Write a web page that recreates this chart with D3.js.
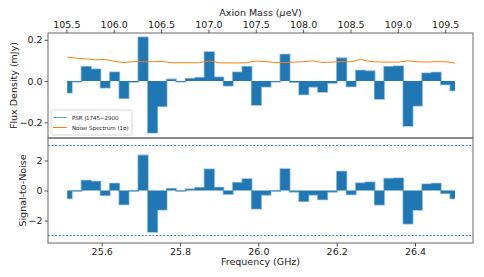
<!DOCTYPE html>
<html>
<head>
<meta charset="utf-8">
<script src="https://cdn.jsdelivr.net/npm/d3@7"></script>
<style>
  body { margin: 0; background: #fff; }
  svg text { font-family: "DejaVu Sans", sans-serif; fill: #222; }
  .axis path, .axis line { stroke: #555; }
  .axis text { font-size: 9.5px; }
</style>
</head>
<body>
<div id="main"></div>
<script>
// channel frequencies (GHz)
var freq = [25.512, 25.536, 25.561, 25.585, 25.609, 25.633, 25.657, 25.681, 25.706, 25.730,
            25.754, 25.778, 25.802, 25.826, 25.850, 25.875, 25.899, 25.923, 25.947, 25.971,
            25.995, 26.019, 26.044, 26.068, 26.092, 26.116, 26.140, 26.164, 26.188, 26.213,
            26.237, 26.261, 26.285, 26.309, 26.333, 26.358, 26.382, 26.406, 26.430, 26.454,
            26.478, 26.502];

// flux density (mJy)
var flux = [-0.057, -0.003, 0.069, 0.057, -0.032, 0.043, -0.083, -0.004, 0.212, -0.250,
            -0.122, 0.008, -0.003, 0.011, 0.016, 0.141, 0.018, -0.023, 0.043, 0.069,
            -0.116, -0.027, -0.003, 0.129, -0.005, -0.065, -0.028, -0.053, -0.009, 0.111,
            -0.026, 0.051, 0.048, -0.087, 0.069, 0.072, -0.218, -0.120, 0.038, 0.041,
            -0.017, -0.046];

// noise spectrum (1 sigma, mJy)
var noise = [0.116, 0.111, 0.107, 0.103, 0.105, 0.095, 0.090, 0.094, 0.094, 0.094,
             0.095, 0.089, 0.089, 0.089, 0.089, 0.098, 0.089, 0.088, 0.088, 0.089,
             0.097, 0.094, 0.090, 0.090, 0.092, 0.094, 0.098, 0.090, 0.092, 0.094,
             0.094, 0.105, 0.095, 0.092, 0.092, 0.092, 0.098, 0.094, 0.092, 0.094,
             0.094, 0.087];

// signal-to-noise
var snr = [-0.53, -0.04, 0.66, 0.60, -0.31, 0.46, -0.93, -0.04, 2.34, -2.76,
           -1.28, 0.11, -0.04, 0.09, 0.18, 1.41, 0.20, -0.24, 0.51, 0.77,
           -1.21, -0.29, -0.04, 1.43, -0.09, -0.71, -0.29, -0.60, -0.09, 1.26,
           -0.27, 0.49, 0.55, -0.95, 0.79, 0.82, -2.21, -1.30, 0.42, 0.46,
           -0.18, -0.53];

var massTicks = [105.5, 106.0, 106.5, 107.0, 107.5, 108.0, 108.5, 109.0, 109.5];
var freqTicks = [25.6, 25.8, 26.0, 26.2, 26.4];
var fluxTicks = [-0.2, 0.0, 0.2];
var snrTicks = [-2, 0, 2];
var snrLimits = [-3, 3];
var legendLabels = ["PSR J1745\u22122900", "Noise Spectrum (1\u03c3)"];

var GHZ_TO_UEV = 4.135667;

var width = 484;
var height = 277;
var blue = "#1f77b4";
var orange = "#ff7f0e";

var svg = d3.select("#main")
  .append("svg")
  .attr("width", width)
  .attr("height", height);

var left = 48, right = 473;
var topY = 33, midY = 138, botY = 243;

var x = d3.scaleLinear()
  .domain([25.463, 26.548])
  .range([left, right]);

var xMass = d3.scaleLinear()
  .domain([x.domain()[0] * GHZ_TO_UEV, x.domain()[1] * GHZ_TO_UEV])
  .range([left, right]);

var yFlux = d3.scaleLinear()
  .domain([-0.276, 0.233])
  .range([midY, topY]);

var ySnr = d3.scaleLinear()
  .domain([-3.5, 3.5])
  .range([botY, midY]);

var idx = d3.range(freq.length);

function drawSteps(g, vals, y) {
  var area = d3.area()
    .curve(d3.curveStep)
    .x(function(i) { return x(freq[i]); })
    .y0(y(0))
    .y1(function(i) { return y(vals[i]); });
  var line = d3.line()
    .curve(d3.curveStep)
    .x(function(i) { return x(freq[i]); })
    .y(function(i) { return y(vals[i]); });
  g.append("path")
    .attr("d", line(idx))
    .attr("fill", "none")
    .attr("stroke", blue)
    .attr("stroke-opacity", 0.5)
    .attr("stroke-width", 1.6);
  g.append("path")
    .attr("d", area(idx))
    .attr("fill", blue);
}

// top panel
var topG = svg.append("g");
drawSteps(topG, flux, yFlux);

topG.append("path")
  .attr("d", d3.line()
    .x(function(i) { return x(freq[i]); })
    .y(function(i) { return yFlux(noise[i]); })(idx))
  .attr("fill", "none")
  .attr("stroke", orange)
  .attr("stroke-width", 1);

// bottom panel
var botG = svg.append("g");
botG.selectAll("line.lim")
  .data(snrLimits)
  .enter().append("line")
  .attr("class", "lim")
  .attr("x1", left).attr("x2", right)
  .attr("y1", function(d) { return ySnr(d); })
  .attr("y2", function(d) { return ySnr(d); })
  .attr("stroke", blue)
  .attr("stroke-width", 0.9)
  .attr("stroke-dasharray", "2,1.6");
drawSteps(botG, snr, ySnr);

// frames
[[topY, midY], [midY, botY]].forEach(function(p) {
  svg.append("rect")
    .attr("x", left).attr("y", p[0])
    .attr("width", right - left).attr("height", p[1] - p[0])
    .attr("fill", "none")
    .attr("stroke", "#666")
    .attr("stroke-width", 1);
});

// axes
svg.append("g")
  .attr("class", "axis")
  .attr("transform", "translate(0," + topY + ")")
  .call(d3.axisTop(xMass).tickValues(massTicks).tickFormat(d3.format(".1f")).tickSize(3.5).tickPadding(2))
  .select(".domain").remove();

svg.append("g")
  .attr("class", "axis")
  .attr("transform", "translate(0," + botY + ")")
  .call(d3.axisBottom(x).tickValues(freqTicks).tickFormat(d3.format(".1f")).tickSize(3.5).tickPadding(2))
  .select(".domain").remove();

svg.append("g")
  .attr("class", "axis")
  .attr("transform", "translate(" + left + ",0)")
  .call(d3.axisLeft(yFlux).tickValues(fluxTicks).tickFormat(d3.format(".1f")).tickSize(3.5).tickPadding(2))
  .select(".domain").remove();

svg.append("g")
  .attr("class", "axis")
  .attr("transform", "translate(" + left + ",0)")
  .call(d3.axisLeft(ySnr).tickValues(snrTicks).tickFormat(d3.format("d")).tickSize(3.5).tickPadding(2))
  .select(".domain").remove();

// axis labels
var massLabel = svg.append("text")
  .attr("x", (left + right) / 2).attr("y", 16)
  .attr("text-anchor", "middle")
  .style("font-size", "9.5px");
massLabel.append("tspan").text("Axion Mass (");
massLabel.append("tspan").style("font-style", "italic").text("\u03bc");
massLabel.append("tspan").text("eV)");

svg.append("text")
  .attr("x", (left + right) / 2).attr("y", 265)
  .attr("text-anchor", "middle")
  .style("font-size", "9.5px")
  .text("Frequency (GHz)");

svg.append("text")
  .attr("transform", "translate(17," + (topY + midY) / 2 + ") rotate(-90)")
  .attr("text-anchor", "middle")
  .style("font-size", "9.5px")
  .text("Flux Density (mJy)");

svg.append("text")
  .attr("transform", "translate(26," + (midY + botY) / 2 + ") rotate(-90)")
  .attr("text-anchor", "middle")
  .style("font-size", "9.5px")
  .text("Signal-to-Noise");

// legend
var legend = svg.append("g").attr("transform", "translate(51,110)");
legend.append("rect")
  .attr("width", 81).attr("height", 25)
  .attr("rx", 1.5)
  .attr("fill", "#fff")
  .attr("fill-opacity", 0.8)
  .attr("stroke", "#ccc")
  .attr("stroke-width", 0.8);

legend.selectAll("g.item")
  .data(legendLabels)
  .enter().append("g")
  .attr("class", "item")
  .attr("transform", function(d, i) { return "translate(2," + (7.5 + i * 10) + ")"; })
  .each(function(d, i) {
    var g = d3.select(this);
    g.append("line")
      .attr("x1", 0).attr("x2", 14)
      .attr("stroke", i === 0 ? blue : orange)
      .attr("stroke-opacity", i === 0 ? 0.7 : 1)
      .attr("stroke-width", 1);
    g.append("text")
      .attr("x", 19).attr("y", 2)
      .style("font-size", "5.5px")
      .text(d);
  });
</script>
</body>
</html>
